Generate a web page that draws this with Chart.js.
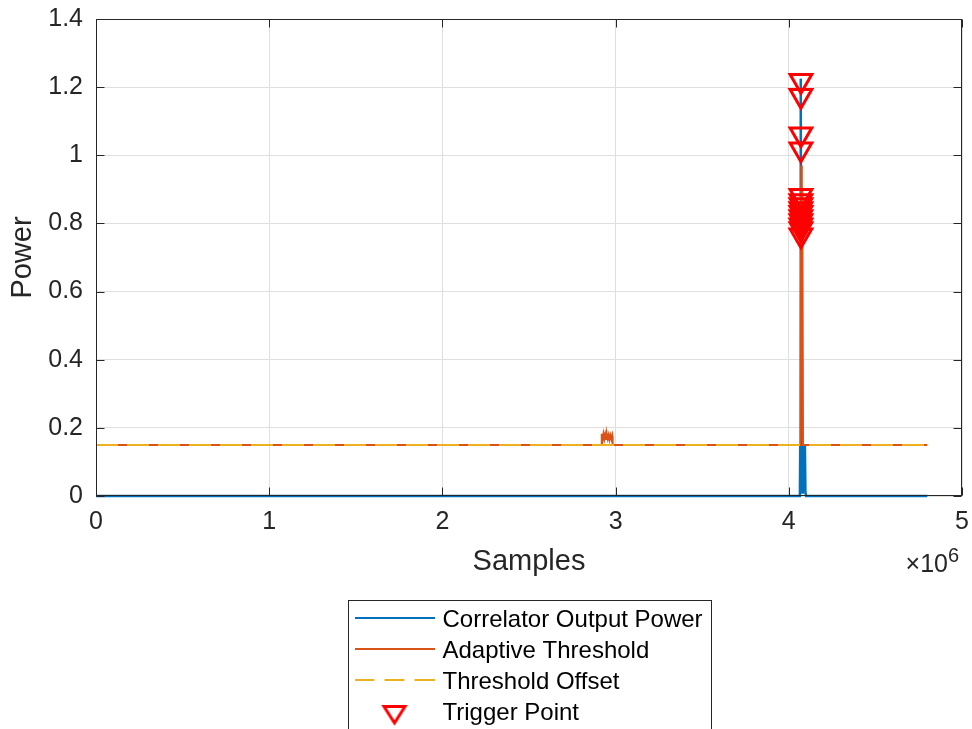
<!DOCTYPE html>
<html>
<head>
<meta charset="utf-8">
<script src="https://cdn.jsdelivr.net/npm/chart.js@4.4.1/dist/chart.umd.min.js"></script>
<style>
    html, body { margin: 0; padding: 0; background: #fff; }
    canvas { display: block; }
</style>
</head>
<body>
<canvas id="myChart" width="972" height="729"></canvas>
<script>
// Data (x in samples, y in power)
const corrX = [0, 4.064e6, 4.066e6, 4.068e6, 4.070e6, 4.072e6, 4.075e6, 4.078e6, 4.081e6, 4.084e6, 4.087e6, 4.090e6, 4.093e6, 4.096e6, 4.100e6, 4.8e6];
const corrY = [0, 0, 0.15, 0.02, 1.225, 0.05, 0.40, 0.01, 0.15, 0.03, 0.14, 0.02, 0.15, 0.01, 0, 0];

const adaptX = [0, 2.918e6, 2.920e6, 2.925e6, 2.930e6, 2.935e6, 2.940e6, 2.945e6, 2.950e6, 2.955e6, 2.960e6, 2.965e6, 2.970e6, 2.975e6, 2.980e6, 2.983e6, 4.068e6, 4.072e6, 4.075e6, 4.078e6, 4.082e6, 4.8e6];
const adaptY = [0.15, 0.15, 0.183, 0.165, 0.182, 0.168, 0.181, 0.167, 0.18, 0.168, 0.179, 0.166, 0.178, 0.168, 0.177, 0.15, 0.15, 0.97, 0.55, 0.90, 0.15, 0.15];

const offsetX = [0, 4.8e6];
const offsetY = [0.15, 0.15];

const trigX = [4.07e6, 4.07e6, 4.07e6, 4.07e6, 4.07e6, 4.07e6, 4.07e6, 4.07e6, 4.07e6, 4.07e6, 4.07e6, 4.07e6, 4.07e6, 4.07e6];
const trigY = [1.219, 1.175, 1.062, 1.018, 0.881, 0.866, 0.854, 0.842, 0.831, 0.819, 0.807, 0.795, 0.784, 0.765];

const xTickValues = [0, 1e6, 2e6, 3e6, 4e6, 5e6];
const xTickLabels = ['0', '1', '2', '3', '4', '5'];
const yTickValues = [0, 0.2, 0.4, 0.6, 0.8, 1.0, 1.2, 1.4];
const yTickLabels = ['0', '0.2', '0.4', '0.6', '0.8', '1', '1.2', '1.4'];

const seriesNames = ['Correlator Output Power', 'Adaptive Threshold', 'Threshold Offset', 'Trigger Point'];

const BLUE = '#0072BD';
const ORANGE = '#D95319';
const YELLOW = '#EDB120';
const RED = '#FF0000';
const INK = '#262626';
const FONT = '"Liberation Sans", Arial, sans-serif';

function toPoints(xs, ys) {
    return xs.map((x, i) => ({ x: x, y: ys[i] }));
}

// little canvases used as legend samples
function lineSample(color, dash) {
    const c = document.createElement('canvas');
    c.width = 80;
    c.height = 10;
    const g = c.getContext('2d');
    g.strokeStyle = color;
    g.lineWidth = 2;
    g.setLineDash(dash);
    g.beginPath();
    g.moveTo(0, 3);
    g.lineTo(80, 3);
    g.stroke();
    return c;
}

function triangleSample() {
    const c = document.createElement('canvas');
    c.width = 28;
    c.height = 40;
    const g = c.getContext('2d');
    g.strokeStyle = RED;
    g.lineWidth = 3;
    g.lineJoin = 'miter';
    g.beginPath();
    g.moveTo(3.5, 13.5);
    g.lineTo(24.5, 13.5);
    g.lineTo(14, 30);
    g.closePath();
    g.stroke();
    return c;
}

const legendSamples = [lineSample(BLUE, []), lineSample(ORANGE, []), lineSample(YELLOW, [20, 10]), triangleSample()];

// put the legend under the axes, like the MATLAB box
const legendPlacer = {
    id: 'legendPlacer',
    afterLayout(chart) {
        const lg = chart.legend;
        lg.left = 351.5;
        lg.top = 601;
        lg.right = 972;
        lg.bottom = 800;
        lg.width = lg.right - lg.left;
        lg.height = lg.bottom - lg.top;
    }
};

// axes box, inward ticks, exponent label and legend frame
const axesBox = {
    id: 'axesBox',
    afterDraw(chart) {
        const { ctx, chartArea: a, scales } = chart;
        const L = Math.round(a.left) + 0.5, R = Math.round(a.right) - 0.5;
        const T = Math.round(a.top) + 0.5, B = Math.round(a.bottom) - 0.5;
        ctx.save();
        ctx.strokeStyle = INK;
        ctx.lineWidth = 1;
        ctx.strokeRect(L, T, R - L, B - T);
        ctx.beginPath();
        scales.x.ticks.forEach(t => {
            const px = Math.round(scales.x.getPixelForValue(t.value)) + 0.5;
            ctx.moveTo(px, B); ctx.lineTo(px, B - 8);
            ctx.moveTo(px, T); ctx.lineTo(px, T + 8);
        });
        scales.y.ticks.forEach(t => {
            const py = Math.round(scales.y.getPixelForValue(t.value)) + 0.5;
            ctx.moveTo(L, py); ctx.lineTo(L + 8, py);
            ctx.moveTo(R, py); ctx.lineTo(R - 8, py);
        });
        ctx.stroke();

        ctx.fillStyle = INK;
        ctx.textBaseline = 'alphabetic';
        ctx.font = '25px ' + FONT;
        ctx.textAlign = 'right';
        ctx.fillText('\u00d710', 948, 572);
        ctx.font = '20px ' + FONT;
        ctx.textAlign = 'left';
        ctx.fillText('6', 948, 562);

        ctx.strokeStyle = INK;
        ctx.strokeRect(348.5, 600.5, 363, 200);
        ctx.restore();
    }
};

const data = {
    datasets: [{
        label: seriesNames[0],
        data: toPoints(corrX, corrY),
        borderColor: BLUE,
        borderWidth: 2.5,
        pointRadius: 0,
        clip: false,
        order: 4
    },
    {
        label: seriesNames[1],
        data: toPoints(adaptX, adaptY),
        borderColor: ORANGE,
        borderWidth: 2,
        pointRadius: 0,
        order: 3
    },
    {
        label: seriesNames[2],
        data: toPoints(offsetX, offsetY),
        borderColor: YELLOW,
        borderWidth: 2,
        borderDash: [22, 9],
        pointRadius: 0,
        order: 2
    },
    {
        label: seriesNames[3],
        data: toPoints(trigX, trigY),
        showLine: false,
        pointStyle: 'triangle',
        pointRotation: 180,
        pointRadius: 12.5,
        pointBorderWidth: 3,
        pointBorderColor: RED,
        pointBackgroundColor: 'rgba(255,255,255,0)',
        order: 1
    }]
};

const config = {
    type: 'line',
    data: data,
    plugins: [legendPlacer, axesBox],
    options: {
        responsive: false,
        animation: false,
        events: [],
        layout: {
            autoPadding: false,
            padding: { left: 0, top: 19, right: 10, bottom: 148 }
        },
        elements: {
            line: { tension: 0 }
        },
        scales: {
            x: {
                type: 'linear',
                min: 0,
                max: 5e6,
                afterFit: s => { s.height = 85; s.paddingLeft = 0; s.paddingRight = 0; },
                afterBuildTicks: s => { s.ticks = xTickValues.map(v => ({ value: v })); },
                ticks: {
                    autoSkip: false,
                    maxRotation: 0,
                    padding: 11,
                    color: INK,
                    font: { family: FONT, size: 25 },
                    callback: (v, i) => xTickLabels[i]
                },
                grid: { color: 'rgb(223,223,223)', drawTicks: false },
                border: { display: false },
                title: {
                    display: true,
                    text: 'Samples',
                    color: INK,
                    font: { family: FONT, size: 29 },
                    padding: { top: 0, bottom: 2 }
                }
            },
            y: {
                type: 'linear',
                min: 0,
                max: 1.4,
                afterFit: s => { s.width = 96; s.paddingTop = 0; s.paddingBottom = 0; },
                afterBuildTicks: s => { s.ticks = yTickValues.map(v => ({ value: v })); },
                ticks: {
                    padding: 13,
                    color: INK,
                    font: { family: FONT, size: 25 },
                    callback: (v, i) => yTickLabels[i]
                },
                grid: { color: 'rgb(223,223,223)', drawTicks: false },
                border: { display: false },
                title: {
                    display: true,
                    text: 'Power',
                    color: INK,
                    font: { family: FONT, size: 29 },
                    padding: { top: 6, bottom: 0 }
                }
            }
        },
        plugins: {
            tooltip: { enabled: false },
            legend: {
                position: 'chartArea',
                align: 'start',
                labels: {
                    usePointStyle: true,
                    pointStyleWidth: 72,
                    padding: 7,
                    color: INK,
                    font: { family: FONT, size: 24 },
                    generateLabels: () => seriesNames.map((name, i) => ({
                        text: name,
                        pointStyle: legendSamples[i],
                        fillStyle: 'rgba(0,0,0,0)',
                        strokeStyle: 'rgba(0,0,0,0)',
                        lineWidth: 0,
                        hidden: false,
                        datasetIndex: i
                    }))
                }
            }
        }
    }
};

new Chart(document.getElementById('myChart'), config);
</script>
</body>
</html>
